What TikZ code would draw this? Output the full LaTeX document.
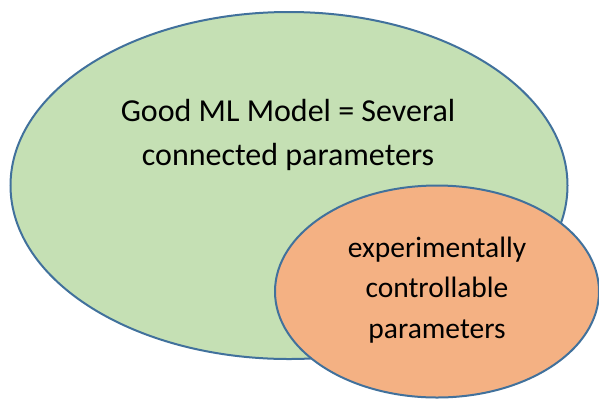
\documentclass[tikz,border=0pt]{standalone}
\usepackage{fontspec}
\setmainfont{Carlito}
\usetikzlibrary{shapes.geometric}
\definecolor{greenfill}{HTML}{C5E0B4}
\definecolor{orangefill}{HTML}{F4B183}
\definecolor{edgeblue}{HTML}{41719C}
\begin{document}
\begin{tikzpicture}[x=1pt,y=-1pt,
  blob/.style={ellipse,draw=edgeblue,line width=2pt,inner sep=0pt},
  label/.style={align=center,text=black,inner sep=0pt}]
\useasboundingbox (0,0) rectangle (599,400);
\node[blob,fill=greenfill,minimum width=557pt,minimum height=347pt] (big) at (289,185.5) {};
\node[blob,fill=orangefill,minimum width=324pt,minimum height=212pt] (small) at (437,291.5) {};
\node[label,font=\fontsize{32}{44}\selectfont] (bigtext) at (288,135) {Good ML Model = Several\\connected parameters};
\node[label,font=\fontsize{29.5}{40.5}\selectfont] (smalltext) at (437,290) {experimentally\\controllable\\parameters};
\end{tikzpicture}
\end{document}
